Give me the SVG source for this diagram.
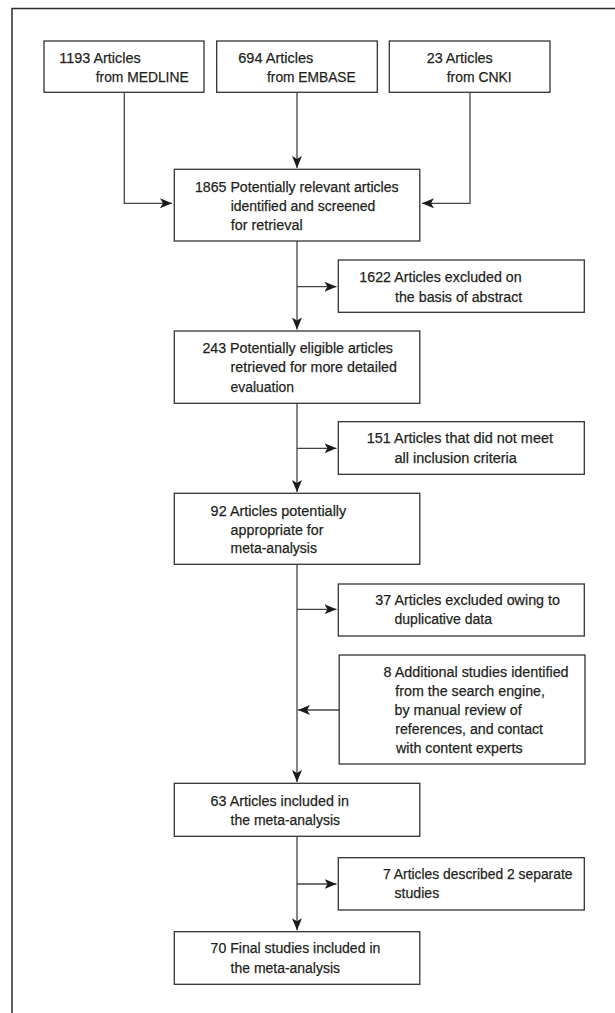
<svg xmlns="http://www.w3.org/2000/svg" width="615" height="1013" viewBox="0 0 615 1013">
<style>
.box{fill:#fff;stroke:#333;stroke-width:1.3}
.frame{fill:none;stroke:#2b2b2b;stroke-width:1.5}
.con{fill:none;stroke:#444;stroke-width:1.3}
text{font-family:"Liberation Sans Narrow","Liberation Sans",Arial,sans-serif;font-size:15.5px;fill:#231f20;stroke:#231f20;stroke-width:0.25}
</style>
<defs>
<marker id="ah" markerUnits="userSpaceOnUse" markerWidth="13" markerHeight="11" refX="12" refY="5" orient="auto">
<path d="M0,0 L12,5 L0,10 L3,5 z" fill="#1a1a1a"/>
</marker>
</defs>
<rect width="615" height="1013" fill="#fff"/>
<path class="frame" d="M12,1013 V8.5 H615"/>
<g id="connectors">
<path class="con" d="M124.3,92.3 V203.3 H172" marker-end="url(#ah)"/>
<path class="con" d="M297,92.3 V168" marker-end="url(#ah)"/>
<path class="con" d="M470,92.3 V203.3 H422" marker-end="url(#ah)"/>
<path class="con" d="M297,241 V329.5" marker-end="url(#ah)"/>
<path class="con" d="M297,286.7 H336.5" marker-end="url(#ah)"/>
<path class="con" d="M297,403.3 V492" marker-end="url(#ah)"/>
<path class="con" d="M297,448.3 H336.5" marker-end="url(#ah)"/>
<path class="con" d="M297,564.3 V782" marker-end="url(#ah)"/>
<path class="con" d="M297,609.3 H336.5" marker-end="url(#ah)"/>
<path class="con" d="M339.2,710 H298" marker-end="url(#ah)"/>
<path class="con" d="M297,836.3 V930.3" marker-end="url(#ah)"/>
<path class="con" d="M297,884 H336.5" marker-end="url(#ah)"/>
</g>
<g id="medline">
<rect class="box" x="44" y="41" width="160" height="51.3"/>
<text x="59.3" y="63.3" textLength="81.4" lengthAdjust="spacingAndGlyphs">1193 Articles</text>
<text x="95.7" y="81.7" textLength="93" lengthAdjust="spacingAndGlyphs">from MEDLINE</text>
</g>
<g id="embase">
<rect class="box" x="216.7" y="41" width="160.6" height="51.3"/>
<text x="238.3" y="63.3" textLength="75" lengthAdjust="spacingAndGlyphs">694 Articles</text>
<text x="267" y="81.7" textLength="88.7" lengthAdjust="spacingAndGlyphs">from EMBASE</text>
</g>
<g id="cnki">
<rect class="box" x="389.3" y="41" width="160.7" height="51.3"/>
<text x="426.7" y="63.3" textLength="66" lengthAdjust="spacingAndGlyphs">23 Articles</text>
<text x="446.7" y="81.7" textLength="65" lengthAdjust="spacingAndGlyphs">from CNKI</text>
</g>
<g id="identified">
<rect class="box" x="174.3" y="169.3" width="245.5" height="71.7"/>
<text x="195" y="192.3" textLength="203.7" lengthAdjust="spacingAndGlyphs">1865 Potentially relevant articles</text>
<text x="230.7" y="211" textLength="144.6" lengthAdjust="spacingAndGlyphs">identified and screened</text>
<text x="230.7" y="229.5" textLength="72" lengthAdjust="spacingAndGlyphs">for retrieval</text>
</g>
<g id="excluded-abstract">
<rect class="box" x="338.3" y="260" width="246" height="52.3"/>
<text x="359.3" y="282.3" textLength="162.4" lengthAdjust="spacingAndGlyphs">1622 Articles excluded on</text>
<text x="395" y="301.7" textLength="127.3" lengthAdjust="spacingAndGlyphs">the basis of abstract</text>
</g>
<g id="eligible">
<rect class="box" x="174.3" y="331" width="245.5" height="72.3"/>
<text x="202.4" y="353.3" textLength="190.6" lengthAdjust="spacingAndGlyphs">243 Potentially eligible articles</text>
<text x="230.6" y="372.3" textLength="166.3" lengthAdjust="spacingAndGlyphs">retrieved for more detailed</text>
<text x="230.6" y="391.7" textLength="63.4" lengthAdjust="spacingAndGlyphs">evaluation</text>
</g>
<g id="excluded-criteria">
<rect class="box" x="338.3" y="421.7" width="246" height="52.6"/>
<text x="366.7" y="443.3" textLength="186.3" lengthAdjust="spacingAndGlyphs">151 Articles that did not meet</text>
<text x="394.5" y="462.7" textLength="122.4" lengthAdjust="spacingAndGlyphs">all inclusion criteria</text>
</g>
<g id="appropriate">
<rect class="box" x="174.3" y="493.3" width="245.5" height="71"/>
<text x="210.6" y="516" textLength="135.7" lengthAdjust="spacingAndGlyphs">92 Articles potentially</text>
<text x="230.6" y="535" textLength="92.9" lengthAdjust="spacingAndGlyphs">appropriate for</text>
<text x="230.6" y="553.3" textLength="86.3" lengthAdjust="spacingAndGlyphs">meta-analysis</text>
</g>
<g id="excluded-duplicative">
<rect class="box" x="338.3" y="584" width="246" height="52"/>
<text x="375.3" y="605" textLength="184.7" lengthAdjust="spacingAndGlyphs">37 Articles excluded owing to</text>
<text x="394.5" y="624.3" textLength="97.5" lengthAdjust="spacingAndGlyphs">duplicative data</text>
</g>
<g id="additional">
<rect class="box" x="339.2" y="655" width="245.8" height="109"/>
<text x="383.5" y="676.7" textLength="185.1" lengthAdjust="spacingAndGlyphs">8 Additional studies identified</text>
<text x="395.3" y="695.7" textLength="149.7" lengthAdjust="spacingAndGlyphs">from the search engine,</text>
<text x="394.5" y="715" textLength="127.1" lengthAdjust="spacingAndGlyphs">by manual review of</text>
<text x="395.3" y="734" textLength="147.7" lengthAdjust="spacingAndGlyphs">references, and contact</text>
<text x="396" y="753.3" textLength="126.7" lengthAdjust="spacingAndGlyphs">with content experts</text>
</g>
<g id="included">
<rect class="box" x="174.3" y="783.3" width="245.5" height="53"/>
<text x="210.6" y="805.7" textLength="138.4" lengthAdjust="spacingAndGlyphs">63 Articles included in</text>
<text x="230.6" y="825" textLength="109.4" lengthAdjust="spacingAndGlyphs">the meta-analysis</text>
</g>
<g id="separate">
<rect class="box" x="338.3" y="857.7" width="246" height="52.3"/>
<text x="383" y="879.3" textLength="189.5" lengthAdjust="spacingAndGlyphs">7 Articles described 2 separate</text>
<text x="394.5" y="898.3" textLength="44.7" lengthAdjust="spacingAndGlyphs">studies</text>
</g>
<g id="final">
<rect class="box" x="174.3" y="931.7" width="245.5" height="52.6"/>
<text x="210.6" y="953.3" textLength="169.8" lengthAdjust="spacingAndGlyphs">70 Final studies included in</text>
<text x="230.6" y="972.7" textLength="109.4" lengthAdjust="spacingAndGlyphs">the meta-analysis</text>
</g>
</svg>
